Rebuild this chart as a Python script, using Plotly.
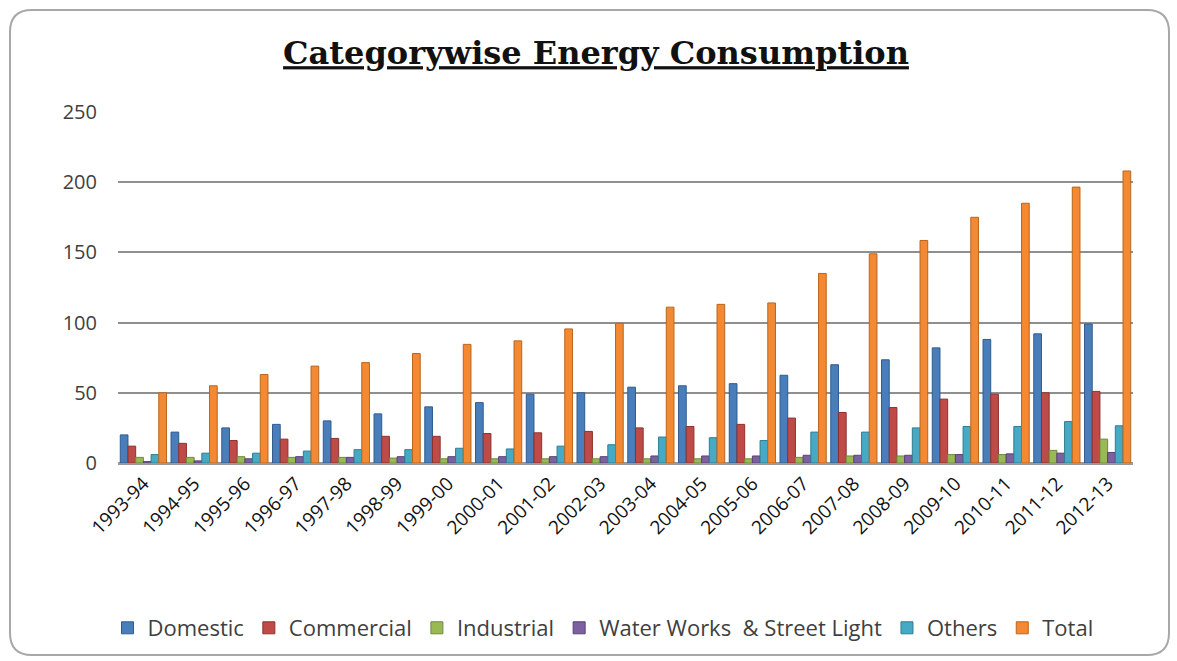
import plotly.graph_objects as go

years = ["1993-94", "1994-95", "1995-96", "1996-97", "1997-98", "1998-99", "1999-00",
         "2000-01", "2001-02", "2002-03", "2003-04", "2004-05", "2005-06", "2006-07",
         "2007-08", "2008-09", "2009-10", "2010-11", "2011-12", "2012-13"]

domestic = [20, 22, 25, 27.5, 30, 35, 40, 43, 49, 50, 54, 55, 56.5, 62.5, 70, 73.5, 82, 88, 92, 99]
commercial = [12, 14, 16, 17, 17.5, 19, 19, 21, 21.5, 22.5, 25, 26, 27.5, 32, 36, 39.5, 45.5, 49, 50, 51]
industrial = [4, 4, 4.5, 4, 4, 3.5, 3, 3, 3, 3, 3, 3, 3, 4, 5, 5, 6, 6, 9, 17]
water_works = [1, 1.5, 3, 4.5, 4, 4.5, 4.5, 4.5, 4.5, 4.5, 5, 5, 5, 5.5, 5.5, 5.5, 6, 6.5, 7, 7.5]
others = [6, 7, 7, 8.5, 9.5, 9.5, 10.5, 10, 12, 13, 18.5, 18, 16, 22, 22, 25, 26, 26, 29.5, 26.5]
total = [50, 55, 63, 69, 71.5, 78, 84.5, 87, 95.5, 99.5, 111, 113, 114, 135, 149, 158.5, 175, 185, 196.5, 208]

series = [
    ("Domestic", domestic, "#4A7EBB", "#2F5C8F"),
    ("Commercial", commercial, "#BE4B48", "#8C3230"),
    ("Industrial", industrial, "#98B954", "#6F8A3A"),
    ("Water Works  & Street Light", water_works, "#7D60A0", "#574274"),
    ("Others", others, "#46AAC5", "#2F7D92"),
    ("Total", total, "#F38A33", "#B8661F"),
]

fig = go.Figure()
for name, vals, color, edge in series:
    fig.add_trace(go.Bar(
        x=years, y=vals, name=name,
        marker=dict(color=color, line=dict(color=edge, width=1)),
    ))

# plot area in pixels (for the outer rounded frame)
L, R, T, B = 118, 44, 112, 198
W, H = 1177, 661
pw, ph = W - L - R, H - T - B


def px(x):
    return (x - L) / pw


def py(y):
    return (H - B - y) / ph


x0, x1, y0, y1, r = 10, 1169, 10, 655, 22
frame = (
    f"M {px(x0 + r)},{py(y0)} L {px(x1 - r)},{py(y0)} "
    f"Q {px(x1)},{py(y0)} {px(x1)},{py(y0 + r)} "
    f"L {px(x1)},{py(y1 - r)} Q {px(x1)},{py(y1)} {px(x1 - r)},{py(y1)} "
    f"L {px(x0 + r)},{py(y1)} Q {px(x0)},{py(y1)} {px(x0)},{py(y1 - r)} "
    f"L {px(x0)},{py(y0 + r)} Q {px(x0)},{py(y0)} {px(x0 + r)},{py(y0)} Z"
)

fig.update_layout(
    width=W, height=H,
    margin=dict(l=L, r=R, t=T, b=B),
    paper_bgcolor="white", plot_bgcolor="white",
    barmode="group", bargap=0.09, bargroupgap=0.0,
    title=dict(
        text="<b>Categorywise Energy Consumption</b>",
        x=596 / W, xanchor="center", y=1 - 53 / H, yanchor="middle",
        font=dict(family="DejaVu Serif", size=32, color="#111111", lineposition="under"),
    ),
    xaxis=dict(
        type="category",
        tickangle=-45, tickfont=dict(family="Open Sans", size=19, color="#111111"),
        showgrid=False, showline=True, linecolor="#9a9a9a", linewidth=2, ticks="",
    ),
    yaxis=dict(
        range=[0, 250], tickvals=[0, 50, 100, 150, 200, 250],
        tickfont=dict(family="Open Sans", size=20, color="#404040"),
        showgrid=True, gridcolor="#8f8f8f", gridwidth=2,
        zeroline=True, zerolinecolor="#9a9a9a", zerolinewidth=2,
        ticks="", ticklabelstandoff=20,
    ),
    legend=dict(
        orientation="h", x=px(603), xanchor="center", y=py(628), yanchor="middle",
        font=dict(family="Open Sans", size=22, color="#404040"),
        itemwidth=30,
    ),
    shapes=[dict(type="path", xref="paper", yref="paper", path=frame,
                 line=dict(color="#a8a8a8", width=2), layer="below")],
)

fig.write_html("out.html")
